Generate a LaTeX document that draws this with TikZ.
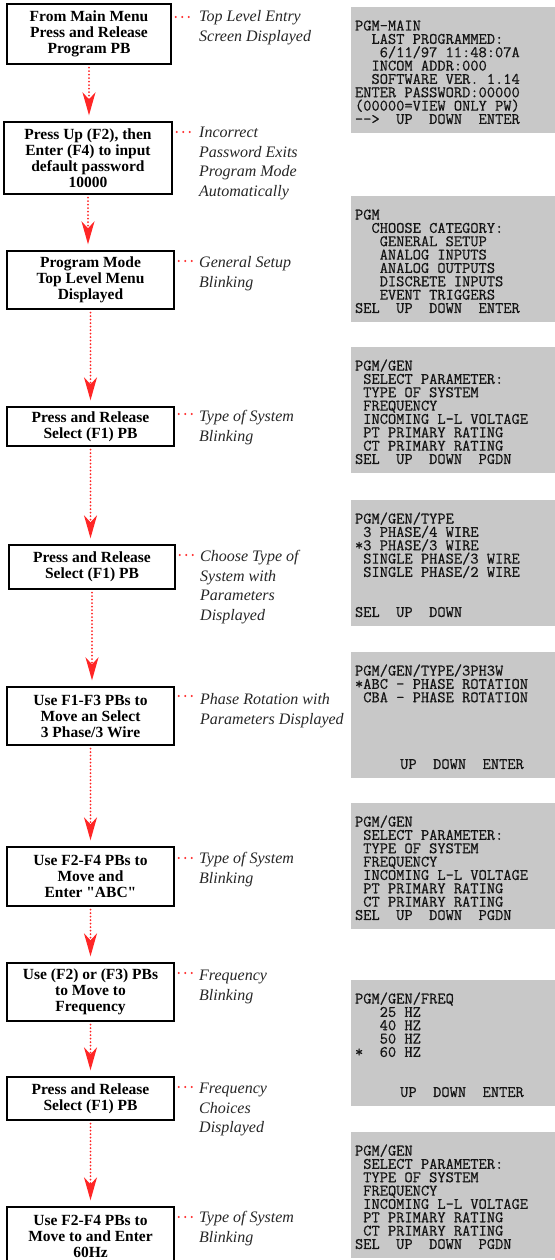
\documentclass[tikz,border=0pt]{standalone}
\usepackage{fontspec}
\setmainfont{Liberation Serif}[Ligatures=TeXOff]
\newfontfamily\lcdfamily{Latin Modern Mono}[FakeBold=0.6]
\usetikzlibrary{arrows.meta}
\definecolor{arrowred}{RGB}{255,38,38}
\definecolor{lcdgray}{RGB}{200,200,200}
\newcommand{\lstrut}{\vrule height 13pt depth 0pt width 0pt}
\newcommand{\sstrut}{\vrule height 12.5pt depth 0pt width 0pt}
\newcommand{\tightlines}{\lineskiplimit=-20pt\relax}
\newcommand{\boxfont}{\bfseries\fontsize{15.5}{16}\selectfont\tightlines}
\newcommand{\lblfont}{\itshape\fontsize{16}{19.5}\selectfont\tightlines}
\newcommand{\lcdfont}{\lcdfamily\fontsize{16}{13.35}\selectfont\tightlines}
\begin{document}
\begin{tikzpicture}[x=1pt,y=-1pt,
 stepbox/.style={draw=black, line width=1.4pt, inner sep=0pt, align=center, font=\boxfont},
 lbl/.style={anchor=north west, yshift=13pt, inner sep=0pt, align=left, text=black!85, font=\lblfont},
 screen/.style={fill=lcdgray, draw=none, minimum width=206pt, minimum height=126pt, inner sep=0pt},
 lcd/.style={anchor=north west, inner sep=0pt, align=left, text=black!92, font=\lcdfont},
 flow/.style={draw=arrowred, line width=2pt, line cap=round, dash pattern=on 0pt off 3.5pt,
   shorten <=3pt, shorten >=6pt, -{Stealth[length=23pt,width=13pt,inset=7pt,fill=arrowred]}},
 leader/.style={draw=arrowred, line width=2.3pt, line cap=round, dash pattern=on 0pt off 6.5pt}
]
\useasboundingbox (0,0) rectangle (554,1260);

% ---------- step boxes ----------
\node[stepbox, minimum width=164pt, minimum height=60pt] (b1) at (89,34) {From Main Menu\\Press and Release\\Program PB};
\node[stepbox, minimum width=168pt, minimum height=72pt] (b2) at (88,158) {Press Up (F2), then\\Enter (F4) to input\\default password\\10000};
\node[stepbox, minimum width=167pt, minimum height=58pt] (b3) at (90.5,280) {Program Mode\\Top Level Menu\\Displayed};
\node[stepbox, minimum width=167pt, minimum height=39pt] (b4) at (90.5,426.5) {Press and Release\\Select (F1) PB};
\node[stepbox, minimum width=166pt, minimum height=44pt] (b5) at (92,567) {Press and Release\\Select (F1) PB};
\node[stepbox, minimum width=167pt, minimum height=58pt] (b6) at (90.5,716) {Use F1-F3 PBs to\\Move an Select\\3 Phase/3 Wire};
\node[stepbox, minimum width=167pt, minimum height=59pt] (b7) at (90.5,876.5) {Use F2-F4 PBs to\\Move and\\Enter "ABC"};
\node[stepbox, minimum width=167pt, minimum height=58pt] (b8) at (90.5,992) {Use (F2) or (F3) PBs\\to Move to\\Frequency};
\node[stepbox, minimum width=167pt, minimum height=43pt] (b9) at (90.5,1098.5) {Press and Release\\Select (F1) PB};
\node[stepbox, minimum width=167pt, minimum height=59pt] (b10) at (90.5,1236.5) {Use F2-F4 PBs to\\Move to and Enter\\60Hz};

% ---------- flow arrows ----------
\draw[flow] (b1.south) -- (b1.south |- b2.north);
\draw[flow] (b2.south) -- (b2.south |- b3.north);
\draw[flow] (b3.south) -- (b3.south |- b4.north);
\draw[flow] (b4.south) -- (b4.south |- b5.north);
\draw[flow] (b5.south) -- (b5.south |- b6.north);
\draw[flow] (b6.south) -- (b6.south |- b7.north);
\draw[flow] (b7.south) -- (b7.south |- b8.north);
\draw[flow] (b8.south) -- (b8.south |- b9.north);
\draw[flow] (b9.south) -- (b9.south |- b10.north);

% ---------- labels ----------
\node[lbl] (l1) at (199,21.5) {\lstrut Top Level Entry\\Screen Displayed};
\node[lbl] (l2) at (199,137.5) {\lstrut Incorrect\\Password Exits\\Program Mode\\Automatically};
\node[lbl] (l3) at (199,267.5) {\lstrut General Setup\\Blinking};
\node[lbl] (l4) at (199,421.5) {\lstrut Type of System\\Blinking};
\node[lbl] (l5) at (200,561.5) {\lstrut Choose Type of\\System with\\Parameters\\Displayed};
\node[lbl] (l6) at (200,704.5) {\lstrut Phase Rotation with\\Parameters Displayed};
\node[lbl] (l7) at (199,863.5) {\lstrut Type of System\\Blinking};
\node[lbl] (l8) at (199,980.5) {\lstrut Frequency\\Blinking};
\node[lbl] (l9) at (199,1093.5) {\lstrut Frequency\\Choices\\Displayed};
\node[lbl] (l10) at (199,1222.5) {\lstrut Type of System\\Blinking};

% ---------- leader dots ----------
\coordinate (d1) at (0,17);
\coordinate (d2) at (0,132);
\coordinate (d3) at (0,261);
\coordinate (d4) at (0,414);
\coordinate (d5) at (0,555);
\coordinate (d6) at (0,696);
\coordinate (d7) at (0,858);
\coordinate (d8) at (0,973);
\coordinate (d9) at (0,1087);
\coordinate (d10) at (0,1217);
\foreach \i in {1,...,10} {
  \draw[leader] (b\i.east |- d\i) ++(4,0) -- ++(13.2,0);
}

% ---------- screens ----------
\node[screen] (s1) at (454,70) {};
\node[screen] (s2) at (454,259) {};
\node[screen] (s3) at (454,410) {};
\node[screen] (s4) at (454,563) {};
\node[screen] (s5) at (454,715) {};
\node[screen] (s6) at (454,866) {};
\node[screen] (s7) at (454,1043) {};
\node[screen] (s8) at (454,1195) {};

\node[lcd] (t1) at ([xshift=4pt,yshift=-11pt]s1.north west) {%
\sstrut PGM-MAIN\\
\sstrut~~LAST~PROGRAMMED:\\
\sstrut~~~6/11/97~11:48:07A\\
\sstrut~~INCOM~ADDR:000\\
\sstrut~~SOFTWARE~VER.~1.14\\
\sstrut ENTER~PASSWORD:00000\\
\sstrut(00000=VIEW~ONLY~PW)\\
\sstrut-\kern0pt-\kern0pt>~~UP~~DOWN~~ENTER};

\node[lcd] (t2) at ([xshift=4pt,yshift=-11pt]s2.north west) {%
\sstrut PGM\\
\sstrut~~CHOOSE~CATEGORY:\\
\sstrut~~~GENERAL~SETUP\\
\sstrut~~~ANALOG~INPUTS\\
\sstrut~~~ANALOG~OUTPUTS\\
\sstrut~~~DISCRETE~INPUTS\\
\sstrut~~~EVENT~TRIGGERS\\
\sstrut SEL~~UP~~DOWN~~ENTER};

\node[lcd] (t3) at ([xshift=4pt,yshift=-11pt]s3.north west) {%
\sstrut PGM/GEN\\
\sstrut~SELECT~PARAMETER:\\
\sstrut~TYPE~OF~SYSTEM\\
\sstrut~FREQUENCY\\
\sstrut~INCOMING~L-L~VOLTAGE\\
\sstrut~PT~PRIMARY~RATING\\
\sstrut~CT~PRIMARY~RATING\\
\sstrut SEL~~UP~~DOWN~~PGDN};

\node[lcd] (t4) at ([xshift=4pt,yshift=-11pt]s4.north west) {%
\sstrut PGM/GEN/TYPE\\
\sstrut~3~PHASE/4~WIRE\\
\sstrut*3~PHASE/3~WIRE\\
\sstrut~SINGLE~PHASE/3~WIRE\\
\sstrut~SINGLE~PHASE/2~WIRE\\
\sstrut\\
\sstrut\\
\sstrut SEL~~UP~~DOWN};

\node[lcd] (t5) at ([xshift=4pt,yshift=-11pt]s5.north west) {%
\sstrut PGM/GEN/TYPE/3PH3W\\
\sstrut*ABC~-~PHASE~ROTATION\\
\sstrut~CBA~-~PHASE~ROTATION\\
\sstrut\\
\sstrut\\
\sstrut\\
\sstrut\\
\sstrut\hspace*{4pt}~~~~~UP~~DOWN~~ENTER};

\node[lcd] (t6) at ([xshift=4pt,yshift=-11pt]s6.north west) {%
\sstrut PGM/GEN\\
\sstrut~SELECT~PARAMETER:\\
\sstrut~TYPE~OF~SYSTEM\\
\sstrut~FREQUENCY\\
\sstrut~INCOMING~L-L~VOLTAGE\\
\sstrut~PT~PRIMARY~RATING\\
\sstrut~CT~PRIMARY~RATING\\
\sstrut SEL~~UP~~DOWN~~PGDN};

\node[lcd] (t7) at ([xshift=4pt,yshift=-11pt]s7.north west) {%
\sstrut PGM/GEN/FREQ\\
\sstrut~~~25~HZ\\
\sstrut~~~40~HZ\\
\sstrut~~~50~HZ\\
\sstrut*~~60~HZ\\
\sstrut\\
\sstrut\\
\sstrut\hspace*{4pt}~~~~~UP~~DOWN~~ENTER};

\node[lcd] (t8) at ([xshift=4pt,yshift=-11pt]s8.north west) {%
\sstrut PGM/GEN\\
\sstrut~SELECT~PARAMETER:\\
\sstrut~TYPE~OF~SYSTEM\\
\sstrut~FREQUENCY\\
\sstrut~INCOMING~L-L~VOLTAGE\\
\sstrut~PT~PRIMARY~RATING\\
\sstrut~CT~PRIMARY~RATING\\
\sstrut SEL~~UP~~DOWN~~PGDN};
\end{tikzpicture}
\end{document}
